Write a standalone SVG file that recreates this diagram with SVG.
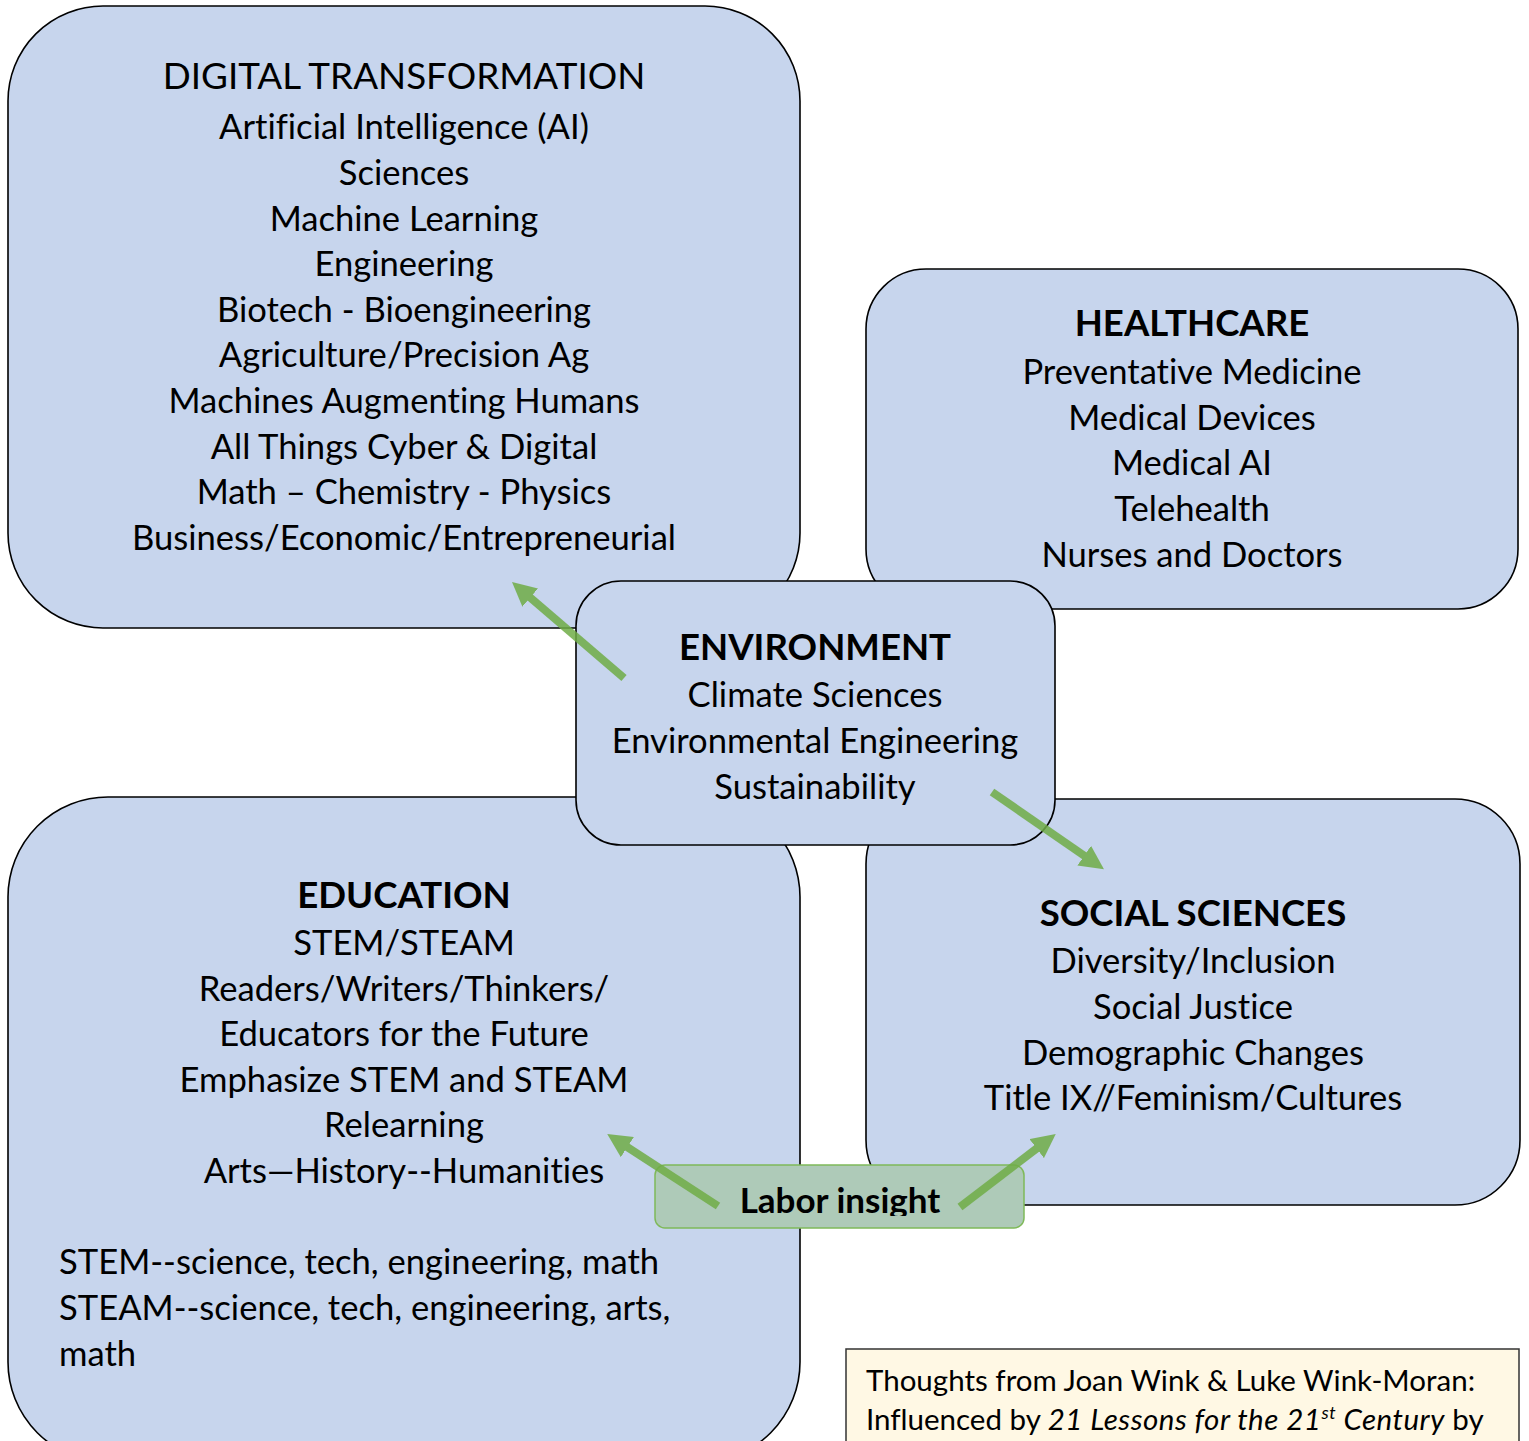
<svg xmlns="http://www.w3.org/2000/svg" width="1529" height="1441" viewBox="0 0 1529 1441">
<style>
.box{fill:#c7d5ed;stroke:#000;stroke-width:1.6}
.t{font-family:Lato,"Liberation Sans",sans-serif;font-size:34.6px;fill:#000;text-anchor:middle;font-variant-ligatures:none}
.h{font-weight:bold;font-size:36.6px}
.dt{font-size:36.8px}
.l{text-anchor:start}
.note{font-family:Lato,"Liberation Sans",sans-serif;font-size:29.5px;fill:#000;font-variant-ligatures:none}
.arr{stroke:#70ad47;stroke-width:8;fill:none;marker-end:url(#ah)}
</style>
<defs>
<marker id="ah" markerUnits="userSpaceOnUse" markerWidth="24" markerHeight="24" refX="12" refY="12" orient="auto" viewBox="0 0 24 24">
<path d="M0,0 L24,12 L0,24 z" fill="#70ad47"/>
</marker>
<clipPath id="lc"><rect x="655" y="1164" width="370" height="52"/></clipPath>
</defs>
<rect width="1529" height="1441" fill="#fff"/>

<g id="digital">
<rect class="box" x="8" y="6" width="792" height="622" rx="95"/>
<text class="t dt" x="404" y="89">DIGITAL TRANSFORMATION</text>
<text class="t" x="404" y="139">Artificial Intelligence (AI)</text>
<text class="t" x="404" y="185">Sciences</text>
<text class="t" x="404" y="231">Machine Learning</text>
<text class="t" x="404" y="276">Engineering</text>
<text class="t" x="404" y="322">Biotech - Bioengineering</text>
<text class="t" x="404" y="367">Agriculture/Precision Ag</text>
<text class="t" x="404" y="413">Machines Augmenting Humans</text>
<text class="t" x="404" y="459">All Things Cyber &amp; Digital</text>
<text class="t" x="404" y="504">Math – Chemistry - Physics</text>
<text class="t" x="404" y="550">Business/Economic/Entrepreneurial</text>
</g>

<g id="healthcare">
<rect class="box" x="866" y="269" width="652" height="340" rx="60"/>
<text class="t h" x="1192" y="336">HEALTHCARE</text>
<text class="t" x="1192" y="384">Preventative Medicine</text>
<text class="t" x="1192" y="430">Medical Devices</text>
<text class="t" x="1192" y="475">Medical AI</text>
<text class="t" x="1192" y="521">Telehealth</text>
<text class="t" x="1192" y="567">Nurses and Doctors</text>
</g>

<g id="education">
<rect class="box" x="8" y="797" width="792" height="665" rx="100"/>
<text class="t h" x="404" y="908">EDUCATION</text>
<text class="t" x="404" y="955">STEM/STEAM</text>
<text class="t" x="404" y="1001">Readers/Writers/Thinkers/</text>
<text class="t" x="404" y="1046">Educators for the Future</text>
<text class="t" x="404" y="1092">Emphasize STEM and STEAM</text>
<text class="t" x="404" y="1137">Relearning</text>
<text class="t" x="404" y="1183">Arts—History--Humanities</text>
<text class="t l" x="59" y="1274">STEM--science, tech, engineering, math</text>
<text class="t l" x="59" y="1320">STEAM--science, tech, engineering, arts,</text>
<text class="t l" x="59" y="1366">math</text>
</g>

<g id="social">
<rect class="box" x="866" y="799" width="654" height="406" rx="65"/>
<text class="t h" x="1193" y="926">SOCIAL SCIENCES</text>
<text class="t" x="1193" y="973">Diversity/Inclusion</text>
<text class="t" x="1193" y="1019">Social Justice</text>
<text class="t" x="1193" y="1065">Demographic Changes</text>
<text class="t" x="1193" y="1110">Title IX//Feminism/Cultures</text>
</g>

<g id="environment">
<rect class="box" x="576" y="581" width="479" height="264" rx="45"/>
<text class="t h" x="815" y="660">ENVIRONMENT</text>
<text class="t" x="815" y="707">Climate Sciences</text>
<text class="t" x="815" y="753">Environmental Engineering</text>
<text class="t" x="815" y="799">Sustainability</text>
</g>

<g id="labor">
<rect x="655" y="1165" width="369" height="63" rx="10" fill="#aecab8" stroke="#7fb95a" stroke-width="1.5"/>
<text class="t h" x="840" y="1213" clip-path="url(#lc)" style="font-size:35px">Labor insight</text>
</g>

<g id="connectors" opacity="0.85">
<path class="arr" d="M624,678 L521.1,589.8"/>
<path class="arr" d="M992,792 L1094.1,862.5"/>
<path class="arr" d="M718,1206 L617.3,1140.6"/>
<path class="arr" d="M960,1207 L1046.2,1141.3"/>
</g>

<g id="note">
<rect x="846" y="1349" width="673" height="120" fill="#fff8e4" stroke="#333" stroke-width="1.5"/>
<text class="note" x="866" y="1391">Thoughts from Joan Wink &amp; Luke Wink-Moran:</text>
<text class="note" x="866" y="1430">Influenced by <tspan font-style="italic" letter-spacing="0.5">21 Lessons for the 21<tspan font-size="18" dy="-11">st</tspan><tspan dy="11"> Century</tspan></tspan> by</text>
</g>
</svg>
